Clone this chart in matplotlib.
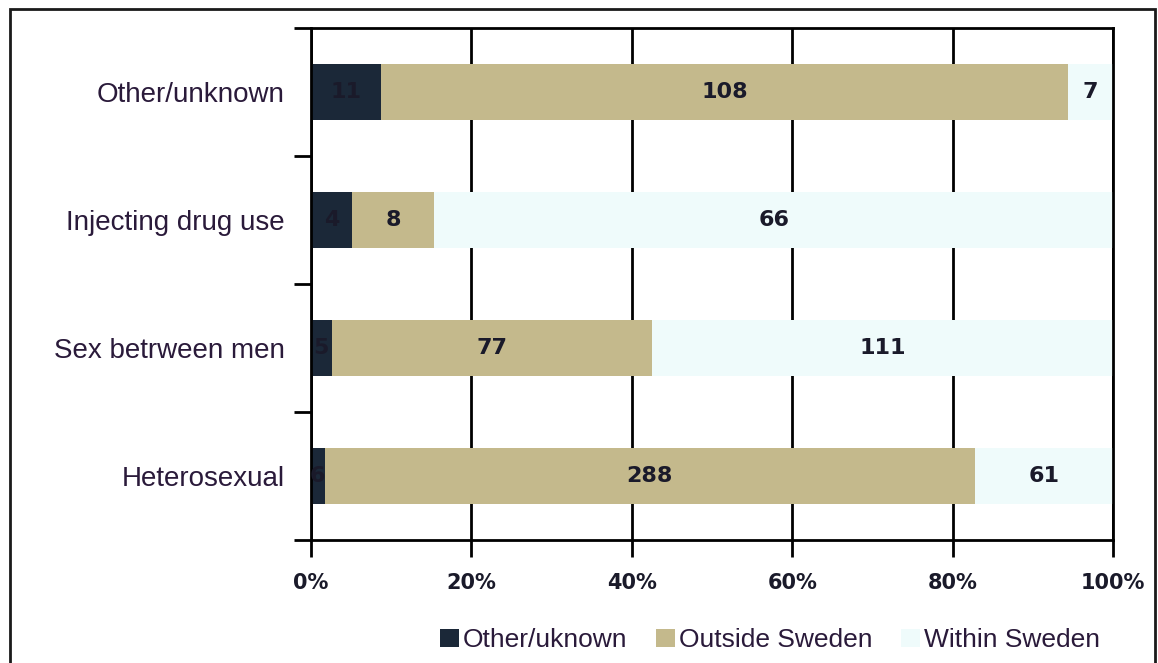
"""
Stacked percentage bars: route of transmission vs. place of infection.
"""
import numpy as np
import matplotlib.pyplot as plt
from matplotlib.patches import Rectangle
from matplotlib.ticker import FixedLocator, PercentFormatter

categories = ['Heterosexual', 'Sex betrween men', 'Injecting drug use', 'Other/unknown']
other_unknown = np.array([6, 5, 4, 11])
outside_sweden = np.array([288, 77, 8, 108])
within_sweden = np.array([61, 111, 66, 7])
series_names = ['Other/uknown', 'Outside Sweden', 'Within Sweden']
colors = ['#1b2838', '#c4b98c', '#effbfb']

totals = other_unknown + outside_sweden + within_sweden
series = [other_unknown, outside_sweden, within_sweden]

fig = plt.figure(figsize=(11.58, 6.63), dpi=100)
ax = fig.add_axes([311 / 1158, 1 - 540 / 663, 802 / 1158, 512 / 663])

y = np.arange(len(categories))
left = np.zeros(len(categories))
for vals, name, c in zip(series, series_names, colors):
    pct = vals / totals * 100
    bars = ax.barh(y, pct, left=left, height=0.43, color=c, label=name, zorder=2)
    ax.bar_label(bars, labels=[str(v) for v in vals], label_type='center',
                 fontsize=16, fontweight='bold', color='#1a1a2a')
    left += pct

ax.set_xlim(0, 100)
ax.set_ylim(-0.5, len(categories) - 0.5)
ax.set_axisbelow(True)
ax.xaxis.set_major_locator(FixedLocator([0, 20, 40, 60, 80, 100]))
ax.xaxis.set_major_formatter(PercentFormatter(decimals=0))
ax.grid(axis='x', color='black', lw=2)

ax.yaxis.set_major_locator(FixedLocator(np.arange(-0.5, len(categories), 1)))
ax.set_yticklabels([])
ax.set_yticks(y, minor=True)
ax.set_yticklabels(categories, minor=True, fontsize=20, family='Liberation Sans',
                   color='#2a1a3a')
ax.tick_params(axis='y', which='minor', length=0, pad=19)
ax.tick_params(axis='y', which='major', length=12, width=2)
ax.tick_params(axis='x', length=12, width=2, pad=12, labelsize=15)
for lbl in ax.get_xticklabels():
    lbl.set_fontweight('bold')
    lbl.set_color('#1a1a2a')

for s in ax.spines.values():
    s.set_linewidth(2)

leg = fig.legend(loc='center', bbox_to_anchor=(770 / 1158, 1 - 640 / 663), ncol=3,
                 frameon=False, handlelength=0.7, handleheight=0.7,
                 handletextpad=0.15, columnspacing=1.1,
                 prop={'family': 'Liberation Sans', 'size': 19})
for t in leg.get_texts():
    t.set_color('#2a1a3a')

fig.patches.append(Rectangle((10 / 1158, -0.1), 1145 / 1158, 1.1 - 9 / 663,
                             transform=fig.transFigure, fill=False, lw=2,
                             edgecolor='#1a1a1a'))

fig.savefig('out.png', dpi=100)
